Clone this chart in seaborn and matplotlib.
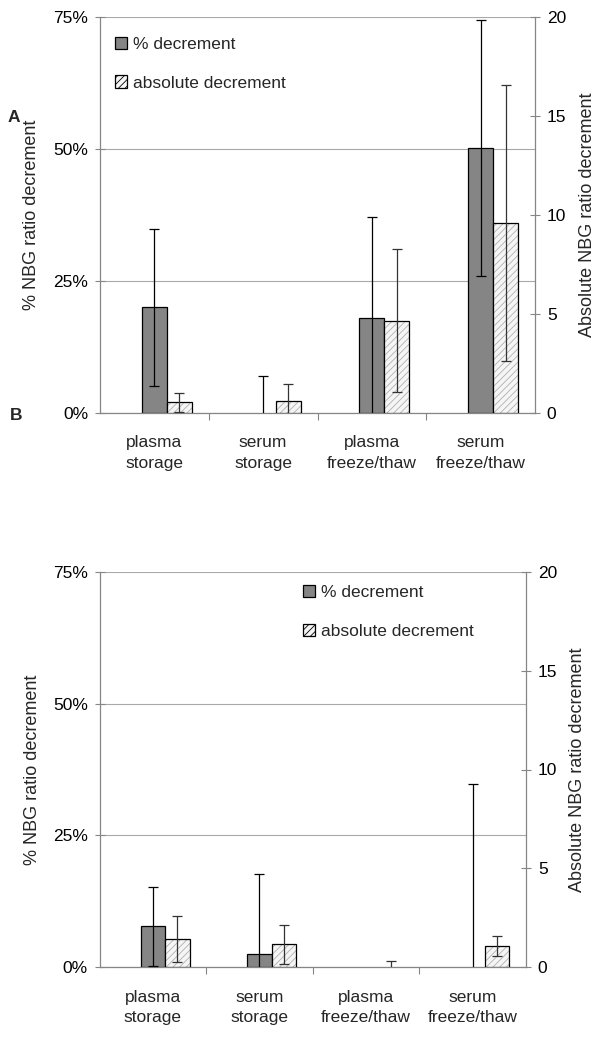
import numpy as np
import matplotlib
matplotlib.use("Agg")
import matplotlib.pyplot as plt
import seaborn as sns
from matplotlib.patches import Patch

# === Setup ===
sns.set_style("white")
plt.rcParams["font.family"] = ["Liberation Sans", "DejaVu Sans"]
plt.rcParams["hatch.linewidth"] = 0.6

# === Data ===
categories = ["plasma\nstorage", "serum\nstorage", "plasma\nfreeze/thaw", "serum\nfreeze/thaw"]

# panel A
pct_a = [20.0, 0.0, 18.0, 50.2]
pct_err_a = [14.9, 7.1, 19.2, 24.3]
abs_a = [0.54, 0.60, 4.67, 9.61]
abs_err_a = [0.47, 0.88, 3.60, 6.97]

# panel B
pct_b = [7.8, 2.6, 0.0, 0.0]
pct_err_b = [7.5, 15.0, 0.0, 34.8]
abs_b = [1.43, 1.16, 0.0, 1.06]
abs_err_b = [1.16, 1.00, 0.34, 0.50]

pct_ticks = [0, 25, 50, 75]
pct_tick_labels = ["0%", "25%", "50%", "75%"]
abs_ticks = [0, 5, 10, 15, 20]

legend_labels = ["% decrement", "absolute decrement"]

# === Styles ===
bar_w = 0.23
pct_color = "#858585"
abs_face = "#f5f5f5"
hatch_col = "#b0b0b0"
axis_col = "#868686"
grid_col = "#a8a8a8"
fs = 12.5


def draw_panel(ax, pct, pct_err, abs_v, abs_err, leg_anchor):
    x = np.arange(len(categories))
    ax2 = ax.twinx()

    # % decrement bars on the left axis
    sns.barplot(x=x, y=pct, native_scale=True, width=bar_w, color=pct_color,
                saturation=1, ax=ax)
    for p in ax.patches:
        p.set_edgecolor("black")
        p.set_linewidth(0.9 if p.get_height() > 0 else 0)
    m = np.array(pct_err) > 0
    ax.errorbar(x[m], np.array(pct)[m], yerr=np.array(pct_err)[m], fmt="none",
                ecolor="black", elinewidth=0.9, capsize=3.3, capthick=0.9, zorder=4)

    # absolute decrement bars on the right axis (hatch, then outline)
    n0 = len(ax2.patches)
    sns.barplot(x=x + bar_w, y=abs_v, native_scale=True, width=bar_w, color=abs_face,
                saturation=1, ax=ax2)
    for p in ax2.patches[n0:]:
        p.set_edgecolor(hatch_col)
        p.set_hatch("/////")
        p.set_linewidth(0)
    n1 = len(ax2.patches)
    sns.barplot(x=x + bar_w, y=abs_v, native_scale=True, width=bar_w, color=abs_face,
                saturation=1, ax=ax2)
    for p in ax2.patches[n1:]:
        p.set_facecolor("none")
        p.set_edgecolor("black")
        p.set_linewidth(0.9 if p.get_height() > 0 else 0)
    m2 = np.array(abs_err) > 0
    ax2.errorbar((x + bar_w)[m2], np.array(abs_v)[m2], yerr=np.array(abs_err)[m2], fmt="none",
                 ecolor="#333333", elinewidth=0.9, capsize=3.3, capthick=0.9, zorder=4)

    # axes
    ax.set_xlim(-0.5, len(categories) - 0.5)
    ax.set_ylim(0, 75)
    ax2.set_ylim(0, 20)
    ax.set_yticks(pct_ticks, pct_tick_labels)
    ax2.set_yticks(abs_ticks, [str(t) for t in abs_ticks])
    ax.set_xticks(x, categories)
    ax.set_xticks(x[:-1] + 0.5, minor=True)
    for t in ax.get_xticklabels():
        t.set_linespacing(1.45)

    ax.yaxis.grid(True, color=grid_col, linewidth=0.8)
    ax.xaxis.grid(False)
    ax.set_axisbelow(True)
    ax2.grid(False)

    ax.tick_params(axis="y", direction="inout", length=7, width=0.8, color=axis_col,
                   pad=5, labelsize=fs, labelcolor="black")
    ax2.tick_params(axis="y", direction="inout", length=7, width=0.8, color=axis_col,
                    pad=5, labelsize=fs, labelcolor="black")
    ax.tick_params(axis="x", which="major", length=0, pad=16, labelsize=fs)
    ax.tick_params(axis="x", which="minor", direction="out", length=5, width=0.8,
                   color=axis_col, bottom=True)

    for s in ["top", "right"]:
        ax.spines[s].set_visible(False)
    for s in ["top", "left", "bottom"]:
        ax2.spines[s].set_visible(False)
    for s in ["left", "bottom"]:
        ax.spines[s].set_color(axis_col)
        ax.spines[s].set_linewidth(0.9)
    ax2.spines["right"].set_color(axis_col)
    ax2.spines["right"].set_linewidth(0.9)

    ax.set_xlabel("")
    ax.set_ylabel("% NBG ratio decrement", fontsize=13)
    ax2.set_ylabel("Absolute NBG ratio decrement", fontsize=13)
    ax.yaxis.set_label_coords(-0.137, 0.5)
    ax2.yaxis.set_label_coords(1.10, 0.5)

    handles = [Patch(facecolor=pct_color, edgecolor="black", linewidth=0.9),
               Patch(facecolor=abs_face, edgecolor=hatch_col, hatch="/////", linewidth=0.9)]
    leg = ax2.legend(handles, legend_labels, loc="upper left", bbox_to_anchor=leg_anchor,
                     frameon=False, borderaxespad=0, borderpad=0, fontsize=fs,
                     handlelength=0.7, handleheight=0.7, handletextpad=0.35,
                     labelspacing=1.35)
    leg.legend_handles[1].set_edgecolor("black")
    return ax2


fig = plt.figure(figsize=(6.03, 10.41), dpi=100)
ax_a = fig.add_axes([100 / 603, 1 - 413 / 1041, 435 / 603, 396 / 1041])
ax_b = fig.add_axes([99.5 / 603, 1 - 967.3 / 1041, 426.5 / 603, 395.6 / 1041])

draw_panel(ax_a, pct_a, pct_err_a, abs_a, abs_err_a, (0.035, 0.950))
draw_panel(ax_b, pct_b, pct_err_b, abs_b, abs_err_b, (0.476, 0.966))

fig.text(14 / 603, 1 - 117 / 1041, "A", fontsize=fs, fontweight="bold", ha="center", va="center")
fig.text(16 / 603, 1 - 416 / 1041, "B", fontsize=fs, fontweight="bold", ha="center", va="center")

fig.savefig("out.png", dpi=100)
